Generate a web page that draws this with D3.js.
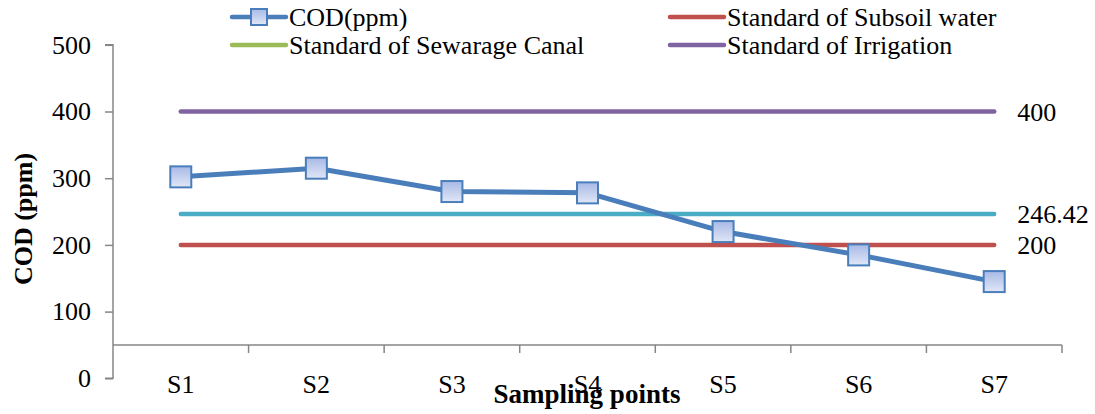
<!DOCTYPE html>
<html>
<head>
<meta charset="utf-8">
<script src="https://cdn.jsdelivr.net/npm/d3@7"></script>
<style>
  html, body { margin: 0; padding: 0; background: #fff; }
  svg { display: block; }
  svg text { font-family: "Liberation Serif", "Times New Roman", serif; }
</style>
</head>
<body>
<svg id="chart" width="1095" height="414"></svg>
<script>
// Sampling points and measured COD values (ppm)
const categories = ["S1", "S2", "S3", "S4", "S5", "S6", "S7"];
const codValues = [302, 315, 280, 278, 220, 185, 145];

// Reference standards drawn as horizontal lines
const subsoilStandard = 200;
const canalStandard = 246.42;
const irrigationStandard = 400;

const yTicks = [0, 100, 200, 300, 400, 500];

const FONT = "'Liberation Serif', 'Times New Roman', serif";

const svg = d3.select("#chart");
const margin = { left: 113, right: 1062, top: 44.8, bottom: 378.3 };

const x = d3.scaleBand().domain(categories).range([margin.left, margin.right]);
const y = d3.scaleLinear().domain([0, 500]).range([margin.bottom, margin.top]);
const cx = d => x(d) + x.bandwidth() / 2;

const axisColor = "#868686";

// Gradient for the square markers
const defs = svg.append("defs");
const grad = defs.append("linearGradient").attr("id", "markerFill")
  .attr("x1", 0).attr("y1", 0).attr("x2", 0).attr("y2", 1);
grad.append("stop").attr("offset", "0%").attr("stop-color", "#a7b9e6");
grad.append("stop").attr("offset", "100%").attr("stop-color", "#e0e7f6");

// Y axis
const yAxis = svg.append("g").attr("transform", `translate(${margin.left},0)`)
  .call(d3.axisLeft(y).tickValues(yTicks).tickSize(8).tickPadding(14).tickFormat(d3.format("d")));
yAxis.attr("font-family", null).attr("font-size", null);
yAxis.select(".domain").attr("stroke", axisColor).attr("stroke-width", 1.5).attr("d", `M-8,${y(500)}H0V${y(0)}H-8`);
yAxis.selectAll(".tick line").attr("stroke", axisColor).attr("stroke-width", 1.5);
yAxis.selectAll(".tick text").style("font-family", FONT)
  .style("font-size", "26px").attr("fill", "#000");

// X axis crossing at 50
const xAxisY = y(50);
const xAxis = svg.append("g").attr("transform", `translate(0,${xAxisY})`);
xAxis.append("line").attr("x1", margin.left).attr("x2", margin.right)
  .attr("y1", 0).attr("y2", 0).attr("stroke", axisColor).attr("stroke-width", 1.5);
const boundaries = categories.map(c => x(c)).concat([margin.right]);
xAxis.selectAll("line.tk").data(boundaries.slice(1)).join("line").attr("class", "tk")
  .attr("x1", d => d).attr("x2", d => d).attr("y1", 0).attr("y2", 8)
  .attr("stroke", axisColor).attr("stroke-width", 1.5);

svg.append("g").selectAll("text").data(categories).join("text")
  .attr("x", d => cx(d)).attr("y", 393)
  .attr("text-anchor", "middle").style("font-family", FONT).style("font-size", "26px").attr("fill", "#000")
  .text(d => d);

// Standard lines spanning first to last sampling point
const standards = [
  { value: irrigationStandard, color: "#8064A2", label: "400" },
  { value: canalStandard, color: "#4BACC6", label: "246.42" },
  { value: subsoilStandard, color: "#C0504D", label: "200" }
];
const first = cx(categories[0]), last = cx(categories[categories.length - 1]);
svg.append("g").selectAll("line").data(standards).join("line")
  .attr("x1", first).attr("x2", last)
  .attr("y1", d => y(d.value)).attr("y2", d => y(d.value))
  .attr("stroke", d => d.color).attr("stroke-width", 4.5).attr("stroke-linecap", "round");
svg.append("g").selectAll("text").data(standards).join("text")
  .attr("x", last + 23).attr("y", d => y(d.value) + 9)
  .style("font-family", FONT).style("font-size", "26px").attr("fill", "#000").text(d => d.label);

// COD series
const line = d3.line().x((d, i) => cx(categories[i])).y(d => y(d));
svg.append("path").datum(codValues).attr("d", line)
  .attr("fill", "none").attr("stroke", "#4A7EBB").attr("stroke-width", 5).attr("stroke-linejoin", "round");
const ms = 21;
svg.append("g").selectAll("rect").data(codValues).join("rect")
  .attr("x", (d, i) => cx(categories[i]) - ms / 2).attr("y", d => y(d) - ms / 2)
  .attr("width", ms).attr("height", ms)
  .attr("fill", "url(#markerFill)").attr("stroke", "#4A7EBB").attr("stroke-width", 2);

// Axis titles
svg.append("text").attr("transform", `translate(32,219) rotate(-90)`)
  .attr("text-anchor", "middle").style("font-family", FONT).style("font-size", "26px")
  .attr("font-weight", "bold").attr("fill", "#000")
  .text("COD (ppm)");
svg.append("text").attr("x", 587).attr("y", 403).attr("text-anchor", "middle")
  .style("font-family", FONT).style("font-size", "27px").attr("font-weight", "bold").attr("fill", "#000")
  .text("Sampling points");

// Legend
const legendItems = [
  { label: "COD(ppm)", color: "#4A7EBB", marker: true, x: 232, y: 17 },
  { label: "Standard of Subsoil water", color: "#C0504D", marker: false, x: 670, y: 17 },
  { label: "Standard of Sewarage Canal", color: "#9BBB59", marker: false, x: 232, y: 45 },
  { label: "Standard of Irrigation", color: "#8064A2", marker: false, x: 670, y: 45 }
];
const lg = svg.append("g").selectAll("g").data(legendItems).join("g")
  .attr("transform", d => `translate(${d.x},${d.y})`);
lg.append("line").attr("x1", 0).attr("x2", 54).attr("y1", 0).attr("y2", 0)
  .attr("stroke", d => d.color).attr("stroke-width", 4.5).attr("stroke-linecap", "round");
lg.filter(d => d.marker).append("rect").attr("x", 27 - 8).attr("y", -8).attr("width", 16).attr("height", 16)
  .attr("fill", "url(#markerFill)").attr("stroke", "#4A7EBB").attr("stroke-width", 2);
lg.append("text").attr("x", 57).attr("y", 9).style("font-family", FONT).style("font-size", "26px")
  .attr("fill", "#000").text(d => d.label);
</script>
</body>
</html>
